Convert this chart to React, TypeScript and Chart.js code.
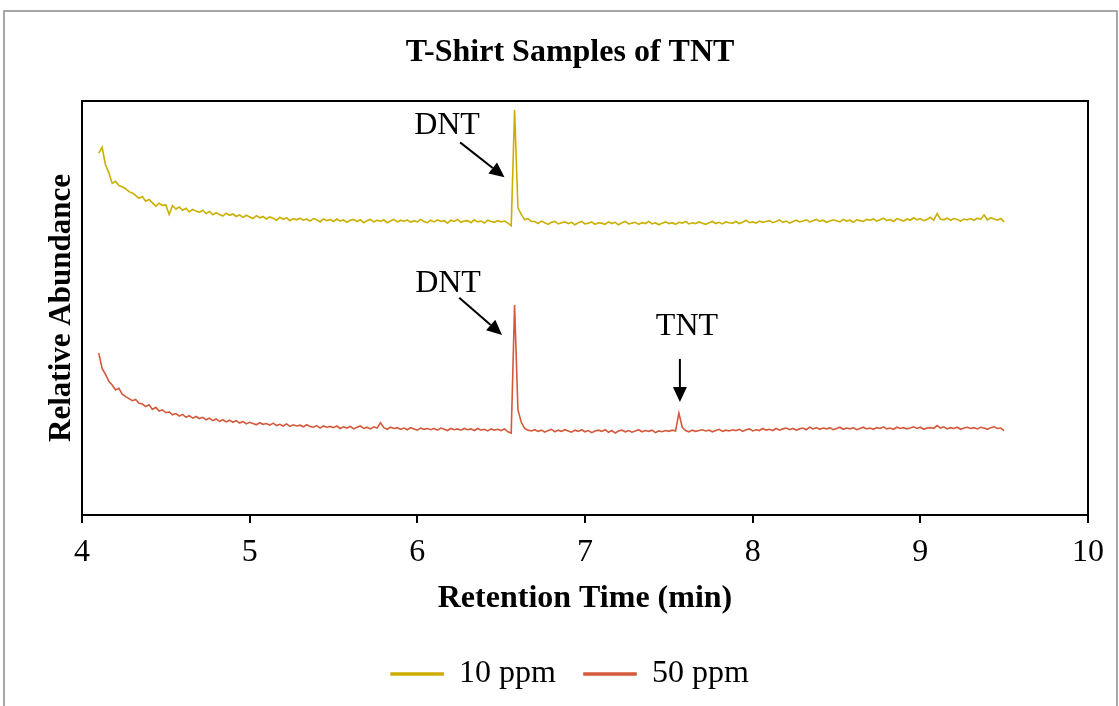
import React, { useEffect, useRef } from "react";
import { Chart, registerables } from "chart.js";

Chart.register(...registerables);

// ---- data ----
const chartTitle = "T-Shirt Samples of TNT";
const xAxisTitle = "Retention Time (min)";
const yAxisTitle = "Relative Abundance";
const seriesNames = ["10 ppm", "50 ppm"];
const xTicks = [4, 5, 6, 7, 8, 9, 10];
const startTime = 4.1; // min, first sample
const sampleStep = 0.02; // min between samples

const ppm10 = [
  87.4, 88.8, 84.6, 82.7, 80.1, 80.6, 79.6, 79.3, 78.8, 78.1,
  77.8, 77.2, 76.5, 76.9, 75.8, 76.2, 75.4, 74.6, 75.3, 74.8,
  74.9, 72.6, 74.7, 73.9, 74.4, 73.6, 74.1, 73.2, 73.8, 73.4,
  73.1, 73.6, 72.8, 73.3, 72.5, 73.0, 72.6, 72.2, 72.9, 72.4,
  72.7, 72.1, 72.5, 71.9, 72.4, 72.0, 71.6, 72.3, 71.8, 72.1,
  71.5, 72.0, 71.7, 71.2, 71.9, 71.4, 71.8, 71.1, 71.6, 71.3,
  71.7, 71.2, 71.5, 71.0, 71.6, 71.3, 70.8, 71.5, 71.1, 71.4,
  70.9, 71.5, 71.0, 71.3, 70.7, 71.2, 71.4, 70.9, 71.3, 70.6,
  71.1, 71.4, 70.8, 71.2, 70.9, 71.3, 70.6, 71.0, 71.4, 70.8,
  71.2, 70.9, 71.3, 70.7, 71.1, 70.8, 71.4, 70.9, 70.6, 71.2,
  70.8, 71.3, 70.9, 71.1, 70.5, 71.2, 70.9, 71.4, 70.7, 71.0,
  71.1, 70.6, 71.3, 70.8, 71.0, 70.5, 71.2, 70.9, 70.7, 71.1,
  70.8, 71.0, 70.5, 69.9, 97.8, 74.2, 72.6, 71.3, 71.6, 70.9,
  70.9, 70.4, 71.0, 70.6, 70.2, 70.7, 70.9, 70.3, 70.6, 70.8,
  70.4, 70.7, 70.1, 70.6, 70.9, 70.3, 70.5, 70.8, 70.2, 70.6,
  70.5, 70.2, 70.8, 70.4, 70.7, 70.1, 70.6, 70.9, 70.3, 70.5,
  70.7, 70.2, 70.6, 70.4, 70.9, 70.3, 70.6, 70.1, 70.5, 70.8,
  70.4, 70.6, 70.2, 70.7, 70.5, 70.9, 70.3, 70.6, 70.4, 70.8,
  70.5, 70.2, 70.6, 70.9, 70.4, 70.7, 70.3, 70.8, 70.6, 70.5,
  70.9, 70.4, 70.7, 71.2, 70.6, 70.8, 70.5, 71.0, 70.7, 70.9,
  71.1, 70.6, 70.9, 71.3, 70.7, 71.0, 70.5, 70.9, 71.2, 70.8,
  71.0, 71.3, 70.8, 71.1, 71.4, 70.9, 71.2, 70.7, 71.0, 71.3,
  71.1, 70.8, 71.4, 71.0, 71.2, 70.7, 71.3, 71.1, 70.9, 71.4,
  71.2, 71.5, 71.0, 71.3, 71.7, 71.1, 71.4, 70.9, 71.6, 71.3,
  71.0, 71.5, 71.2, 71.8, 71.3, 71.6, 71.1, 71.4, 71.9, 71.2,
  72.8, 71.5, 71.3, 71.7, 71.2, 71.6, 71.4, 71.0, 71.5, 71.3,
  71.6, 71.2, 71.7, 71.4, 72.5, 71.3, 71.8, 71.5, 71.2, 71.6,
  70.8,
];

const ppm50 = [
  39.1, 35.4, 34.0, 32.3, 31.4, 30.2, 30.6, 29.2, 28.6, 28.1,
  27.6, 27.9, 27.0, 26.8, 26.2, 26.6, 25.5, 26.0, 25.1, 25.4,
  24.7, 24.9, 24.2, 24.5, 23.9, 24.3, 23.6, 24.0, 23.4, 23.8,
  23.3, 23.6, 23.0, 23.4, 22.8, 23.2, 22.6, 23.0, 22.5, 22.9,
  22.4, 22.8, 22.2, 22.6, 22.0, 22.4, 22.1, 21.8, 22.3, 21.9,
  22.1, 21.7, 22.2, 21.6, 21.9, 21.5, 22.0, 21.4, 21.8, 21.5,
  21.7, 21.3, 21.8, 21.4, 21.2, 21.6, 21.0, 21.5, 21.2, 21.4,
  21.1, 21.5, 20.9, 21.3, 21.0, 21.4, 20.8, 21.2, 21.5, 20.9,
  21.2, 20.8, 21.3, 21.0, 22.3, 21.1, 20.7, 21.2, 20.9, 21.1,
  20.7, 21.0, 20.6, 21.1, 20.8, 20.5, 21.0, 20.7, 20.9, 20.6,
  20.9, 20.5, 21.0, 20.7, 20.4, 20.9, 20.6, 20.8, 20.5, 20.9,
  20.6, 20.8, 20.4, 20.9, 20.5, 20.7, 20.3, 20.8, 20.5, 20.7,
  20.4, 20.8, 20.1, 19.8, 50.7, 25.4, 22.4, 20.9, 20.5, 20.3,
  20.6, 20.2, 20.5, 20.0, 20.4, 20.7, 20.1, 20.5, 20.2, 20.6,
  20.3, 20.0, 20.5, 20.2, 20.6, 20.1, 20.4, 19.9, 20.3, 20.5,
  20.2, 20.6, 20.0, 20.4, 19.8, 20.3, 20.5, 20.1, 20.4, 20.0,
  20.3, 20.6, 20.1, 20.4, 20.2, 20.5, 19.9, 20.3, 20.1, 20.4,
  20.2, 20.5, 20.3, 24.6, 21.2, 20.4, 20.1, 20.5, 20.2, 20.4,
  20.6, 20.3, 20.5, 20.1, 20.4, 20.7, 20.2, 20.5, 20.3, 20.6,
  20.4, 20.7, 20.2, 20.6, 20.8, 20.3, 20.6, 20.4, 20.9, 20.5,
  20.7, 20.4, 20.9, 20.5, 20.8, 21.0, 20.6, 20.9, 20.5, 20.8,
  21.0, 20.6, 21.2, 20.8, 21.1, 20.7, 21.0, 20.8, 21.1, 20.6,
  20.9, 21.2, 20.7, 21.0, 20.8, 21.1, 20.6, 20.9, 21.2, 20.8,
  21.0, 20.7, 21.1, 20.9, 21.3, 20.8, 21.0, 20.7, 21.2, 20.9,
  21.1, 20.8, 21.0, 21.3, 20.9, 21.2, 20.7, 21.0, 21.1, 20.9,
  21.6, 21.0, 21.3, 20.8, 21.1, 20.9, 21.2, 20.7, 21.0, 21.2,
  20.9, 21.1, 20.8, 21.2, 21.0, 20.7, 21.1, 21.3, 20.9, 21.0,
  20.4,
];

// peak labels: text position and arrow (tail -> tip), in data units
const peakLabels = [
  { text: "DNT", tx: 6.177, ty: 94.0, ax1: 6.255, ay1: 90.0, ax2: 6.52, ay2: 81.6 },
  { text: "DNT", tx: 6.183, ty: 56.0, ax1: 6.25, ay1: 52.5, ax2: 6.505, ay2: 43.5 },
  { text: "TNT", tx: 7.608, ty: 45.4, ax1: 7.566, ay1: 37.7, ax2: 7.566, ay2: 27.3 },
];

const colors = ["#CBAF00", "#D4593B"];
const FONT = "'Liberation Serif', 'Times New Roman', serif";

const frameAndLabels = {
  id: "frameAndLabels",
  beforeDraw(chart: any) {
    const { ctx, width, height } = chart;
    ctx.save();
    ctx.fillStyle = "#ffffff";
    ctx.fillRect(0, 0, width, height);
    ctx.strokeStyle = "#8a8a8a";
    ctx.lineWidth = 1.5;
    ctx.strokeRect(4, 11, width - 6, height + 20);
    ctx.restore();
  },
  afterDatasetsDraw(chart: any) {
    const { ctx, chartArea, scales } = chart;
    const xs = scales.x;
    const ys = scales.y;
    ctx.save();
    ctx.strokeStyle = "#000";
    ctx.lineWidth = 2;
    ctx.strokeRect(chartArea.left, chartArea.top, chartArea.right - chartArea.left, chartArea.bottom - chartArea.top);
    ctx.fillStyle = "#000";
    ctx.font = `32px ${FONT}`;
    ctx.textAlign = "center";
    ctx.textBaseline = "middle";
    for (const p of peakLabels) {
      ctx.fillText(p.text, xs.getPixelForValue(p.tx), ys.getPixelForValue(p.ty));
      const x1 = xs.getPixelForValue(p.ax1);
      const y1 = ys.getPixelForValue(p.ay1);
      const x2 = xs.getPixelForValue(p.ax2);
      const y2 = ys.getPixelForValue(p.ay2);
      const ang = Math.atan2(y2 - y1, x2 - x1);
      const headLen = 15;
      const headHalf = 7;
      const bx = x2 - headLen * Math.cos(ang);
      const by = y2 - headLen * Math.sin(ang);
      ctx.beginPath();
      ctx.moveTo(x1, y1);
      ctx.lineTo(bx, by);
      ctx.lineWidth = 2;
      ctx.stroke();
      ctx.beginPath();
      ctx.moveTo(x2, y2);
      ctx.lineTo(bx + headHalf * Math.sin(ang), by - headHalf * Math.cos(ang));
      ctx.lineTo(bx - headHalf * Math.sin(ang), by + headHalf * Math.cos(ang));
      ctx.closePath();
      ctx.fill();
    }
    ctx.restore();
  },
};

const toPoints = (vals: number[]) =>
  vals.map((v, i) => ({ x: +(startTime + i * sampleStep).toFixed(3), y: v }));

export default function App() {
  const ref = useRef<HTMLCanvasElement | null>(null);
  useEffect(() => {
    if (!ref.current) return;
    const chart = new Chart(ref.current, {
      type: "line",
      data: {
        datasets: [
          {
            label: seriesNames[0],
            data: toPoints(ppm10),
            borderColor: colors[0],
            backgroundColor: colors[0],
            borderWidth: 1.6,
            pointRadius: 0,
            tension: 0,
          },
          {
            label: seriesNames[1],
            data: toPoints(ppm50),
            borderColor: colors[1],
            backgroundColor: colors[1],
            borderWidth: 1.6,
            pointRadius: 0,
            tension: 0,
          },
        ],
      },
      options: {
        responsive: false,
        animation: false,
        devicePixelRatio: 1,
        layout: { padding: { left: 52, right: 31, top: 0, bottom: 6 } },
        plugins: {
          title: {
            display: true,
            text: chartTitle,
            color: "#000",
            font: { family: FONT, size: 32, weight: "bold", lineHeight: 1.2 },
            padding: { top: 34, bottom: 28.6 },
          },
          legend: {
            display: true,
            position: "bottom",
            labels: {
              color: "#000",
              font: { family: FONT, size: 32 },
              boxWidth: 52,
              boxHeight: 2,
              padding: 28,
            },
          },
          tooltip: { enabled: false },
        },
        scales: {
          x: {
            type: "linear",
            min: 4,
            max: 10,
            afterBuildTicks: (s: any) => {
              s.ticks = xTicks.map((v) => ({ value: v }));
            },
            afterFit: (s: any) => {
              const lh = s.chart.legend ? s.chart.legend.height : 70;
              s.height = 706 - 6 - 515 - lh;
            },
            grid: {
              display: true,
              drawOnChartArea: false,
              drawTicks: true,
              tickLength: 8,
              color: "#000",
              lineWidth: 2,
            },
            border: { display: false },
            ticks: {
              color: "#000",
              font: { family: FONT, size: 32 },
              padding: 10,
              maxRotation: 0,
              autoSkip: false,
              callback: (v: any) => String(v),
            },
            title: {
              display: true,
              text: xAxisTitle,
              color: "#000",
              font: { family: FONT, size: 32, weight: "bold", lineHeight: 1.2 },
              padding: { top: 0, bottom: 12 },
            },
          },
          y: {
            min: 0,
            max: 100,
            afterFit: (s: any) => {
              s.width = 30;
            },
            grid: { display: false },
            border: { display: false },
            ticks: { display: false },
            title: {
              display: true,
              text: yAxisTitle,
              color: "#000",
              font: { family: FONT, size: 31, weight: "bold", lineHeight: 1.2 },
              padding: { top: -8.6, bottom: 0 },
            },
          },
        },
      },
      plugins: [frameAndLabels],
    } as any);
    return () => chart.destroy();
  }, []);
  return (
    <div style={{ position: "fixed", left: 0, top: 0, width: 1119, height: 706, background: "#fff" }}>
      <canvas ref={ref} width={1119} height={706} style={{ width: 1119, height: 706, display: "block" }} />
    </div>
  );
}
